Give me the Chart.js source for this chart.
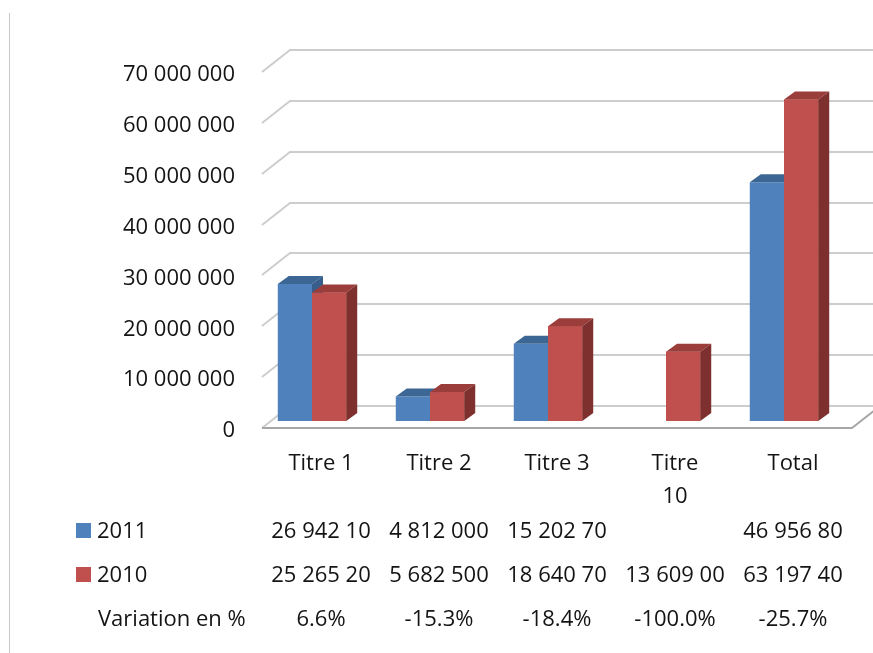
<!DOCTYPE html>
<html lang="fr">
<head>
<meta charset="utf-8">
<title>Titres 2011 / 2010</title>
<script src="https://cdn.jsdelivr.net/npm/chart.js@4.4.1/dist/chart.umd.min.js"></script>
<style>
  html, body { margin: 0; padding: 0; background: #fff; }
  #chart { display: block; }
</style>
</head>
<body>
<canvas id="chart" width="873" height="653"></canvas>
<script>
// data
const categories = ["Titre 1", "Titre 2", "Titre 3", ["Titre", "10"], "Total"];
const values2011 = [26942100, 4812000, 15202700, null, 46956800];
const values2010 = [25265200, 5682500, 18640700, 13609000, 63197400];
const seriesNames = ["2011", "2010"];
const yMax = 70000000;
const yStep = 10000000;

// look
const FONT = { family: "'Open Sans', sans-serif", size: 22, lineHeight: 1.5 };
const TEXT = "#141414";
const faces = [
  { front: "#4F81BD", top: "#3C6795", side: "#385D8A" },
  { front: "#C0504D", top: "#9A3D3B", side: "#7D302E" }
];
const BAR_DX = 11, BAR_DY = 8;      // depth of a bar
const WALL_DX = 28, WALL_DY = 22;   // depth of the floor
const SHIFT_X = -9, SHIFT_Y = -7;   // bars sit a little behind the front edge

// 26 942 100 -> "26 942 10" (cell is only 9 characters wide)
const spaced = v => String(v).replace(/\B(?=(\d{3})+(?!\d))/g, " ");
const cell = v => v == null ? "" : spaced(v).slice(0, 9);
const variation = values2010.map((b, i) =>
  (((values2011[i] || 0) - b) / b * 100).toFixed(1) + "%");

const framePlugin = {
  id: "frame",
  beforeDraw(chart) {
    const ctx = chart.ctx;
    ctx.save();
    ctx.strokeStyle = "#c8c8c8";
    ctx.lineWidth = 1;
    ctx.beginPath();
    ctx.moveTo(9.5, 13);
    ctx.lineTo(9.5, chart.height);
    ctx.stroke();
    ctx.restore();
  }
};

const wallPlugin = {
  id: "wall",
  beforeDatasetsDraw(chart) {
    const { ctx, chartArea: a, scales: { y } } = chart;
    ctx.save();
    ctx.lineWidth = 2;
    ctx.strokeStyle = "#cdcdcd";
    y.ticks.forEach(t => {
      const py = Math.round(y.getPixelForValue(t.value));
      ctx.beginPath();
      ctx.moveTo(a.left, py);
      ctx.lineTo(a.left + WALL_DX, py - WALL_DY);
      ctx.lineTo(chart.width + 20, py - WALL_DY);
      ctx.stroke();
    });
    // front edge of the floor
    ctx.strokeStyle = "#a6a6a6";
    ctx.beginPath();
    ctx.moveTo(a.left, a.bottom);
    ctx.lineTo(a.right, a.bottom);
    ctx.lineTo(a.right + WALL_DX, a.bottom - WALL_DY);
    ctx.stroke();
    ctx.restore();

    ctx.save();
    ctx.translate(SHIFT_X, SHIFT_Y);
  },
  afterDatasetsDraw(chart) {
    const ctx = chart.ctx;
    const metas = chart.getSortedVisibleDatasetMetas();
    categories.forEach((c, i) => {
      metas.forEach((meta, d) => {
        const value = chart.data.datasets[meta.index].data[i];
        if (value == null) return;
        const { x, y, base, width } = meta.data[i].getProps(["x", "y", "base", "width"], true);
        const l = x - width / 2, r = x + width / 2;
        const f = faces[meta.index];
        if (d > 0) {
          // cover the side of the previous bar
          ctx.fillStyle = f.front;
          ctx.fillRect(l, y, width, base - y);
        }
        ctx.fillStyle = f.top;
        ctx.beginPath();
        ctx.moveTo(l, y);
        ctx.lineTo(r, y);
        ctx.lineTo(r + BAR_DX, y - BAR_DY);
        ctx.lineTo(l + BAR_DX, y - BAR_DY);
        ctx.closePath();
        ctx.fill();
        ctx.fillStyle = f.side;
        ctx.beginPath();
        ctx.moveTo(r, y);
        ctx.lineTo(r + BAR_DX, y - BAR_DY);
        ctx.lineTo(r + BAR_DX, base - BAR_DY);
        ctx.lineTo(r, base);
        ctx.closePath();
        ctx.fill();
      });
    });
    ctx.restore();
  }
};

// data table under the axis
const tablePlugin = {
  id: "table",
  afterDraw(chart) {
    const { ctx, scales: { x } } = chart;
    const rows = [
      { name: seriesNames[0], color: faces[0].front, cells: values2011.map(cell), y: 532 },
      { name: seriesNames[1], color: faces[1].front, cells: values2010.map(cell), y: 576 },
      { name: "Variation en %", color: null, cells: variation, y: 620 }
    ];
    ctx.save();
    ctx.font = FONT.size + "px " + FONT.family;
    ctx.fillStyle = TEXT;
    ctx.textBaseline = "middle";
    rows.forEach(row => {
      if (row.color) {
        ctx.fillStyle = row.color;
        ctx.fillRect(76, row.y - 9, 15, 15);
        ctx.fillStyle = TEXT;
        ctx.textAlign = "left";
        ctx.fillText(row.name, 97, row.y);
      } else {
        ctx.textAlign = "left";
        ctx.fillText(row.name, 98, row.y);
      }
      ctx.textAlign = "center";
      row.cells.forEach((t, i) => ctx.fillText(t, x.getPixelForValue(i), row.y));
    });
    ctx.restore();
  }
};

new Chart(document.getElementById("chart"), {
  type: "bar",
  data: {
    labels: categories,
    datasets: [
      { label: seriesNames[0], data: values2011, backgroundColor: faces[0].front, clip: false },
      { label: seriesNames[1], data: values2010, backgroundColor: faces[1].front, clip: false }
    ]
  },
  options: {
    responsive: false,
    animation: false,
    layout: { padding: { top: 72, right: 21, bottom: 0, left: 0 } },
    datasets: { bar: { categoryPercentage: 0.58, barPercentage: 1 } },
    plugins: { legend: { display: false }, tooltip: { enabled: false } },
    scales: {
      x: {
        grid: { display: false, drawTicks: false },
        border: { display: false },
        ticks: { font: FONT, color: TEXT, padding: 19, maxRotation: 0, autoSkip: false },
        afterFit(s) { s.height = 225; }
      },
      y: {
        min: 0,
        max: yMax,
        grid: { display: false, drawTicks: false },
        border: { display: false },
        ticks: { stepSize: yStep, padding: 27, labelOffset: 3, font: FONT, color: TEXT, callback: v => spaced(v) },
        afterFit(s) { s.width = 262; }
      }
    }
  },
  plugins: [framePlugin, wallPlugin, tablePlugin]
});
</script>
</body>
</html>
